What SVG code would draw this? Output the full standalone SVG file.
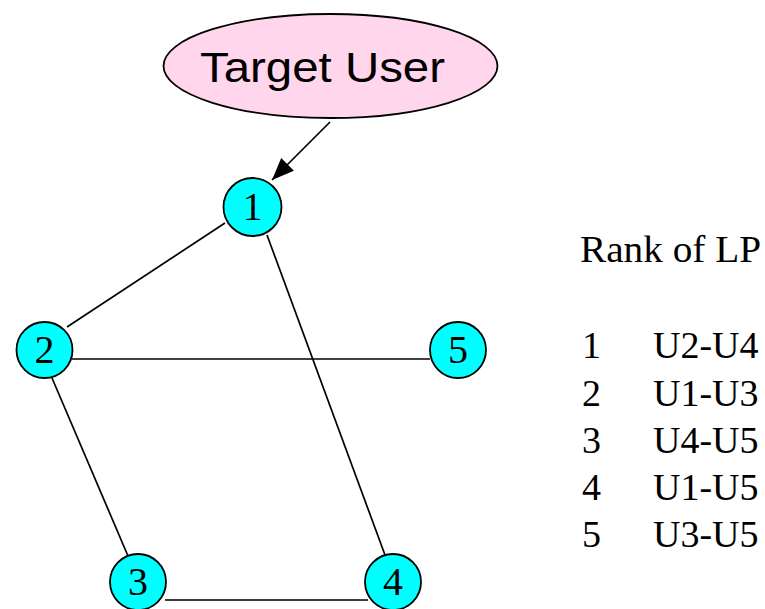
<svg xmlns="http://www.w3.org/2000/svg" width="765" height="609" viewBox="0 0 765 609">
<style>
.node circle{fill:#00FFFF;stroke:#000;stroke-width:1.8}
.node text{font-family:"Liberation Serif","Times New Roman",serif;font-size:40px;text-anchor:middle;fill:#000}
.edge{stroke:#000;stroke-width:1.7;fill:none}
.tbl{font-family:"Liberation Serif","Times New Roman",serif;font-size:38px;fill:#000}
</style>
<defs>
<marker id="arr" viewBox="0 0 22 18" refX="22" refY="9" markerWidth="22" markerHeight="18" markerUnits="userSpaceOnUse" orient="auto">
<path d="M0,0 L22,9 L0,18 z" fill="#000"/>
</marker>
</defs>
<rect width="765" height="609" fill="#fff"/>
<g id="connectors">
<line class="edge" x1="330" y1="122" x2="272" y2="180" stroke-width="2" marker-end="url(#arr)"/>
<line class="edge" x1="225" y1="223" x2="67" y2="327"/>
<line class="edge" x1="267" y1="235" x2="385" y2="555"/>
<line class="edge" x1="72" y1="359" x2="430" y2="359"/>
<line class="edge" x1="52" y1="378" x2="128" y2="556"/>
<line class="edge" x1="165" y1="600" x2="368" y2="600"/>
</g>
<g id="target-user">
<ellipse cx="330.5" cy="66" rx="167" ry="52" fill="#FFD6EB" stroke="#000" stroke-width="1.8"/>
<text x="322.5" y="82" font-family="'Liberation Sans',Arial,sans-serif" font-size="42" text-anchor="middle" textLength="245" lengthAdjust="spacingAndGlyphs">Target User</text>
</g>
<g id="node1" class="node"><circle cx="252.5" cy="207" r="29"/><text x="252.5" y="220">1</text></g>
<g id="node2" class="node"><circle cx="44.5" cy="350" r="28"/><text x="44.5" y="363">2</text></g>
<g id="node5" class="node"><circle cx="458" cy="350" r="28"/><text x="458" y="363">5</text></g>
<g id="node3" class="node"><circle cx="138" cy="582" r="28"/><text x="138" y="595">3</text></g>
<g id="node4" class="node"><circle cx="393" cy="582" r="28"/><text x="393" y="595">4</text></g>
<g id="rank-table" class="tbl">
<text x="580" y="262" textLength="181" lengthAdjust="spacingAndGlyphs">Rank of LP</text>
<text x="582" y="358">1</text><text x="653" y="358">U2-U4</text>
<text x="582" y="405.5">2</text><text x="653" y="405.5">U1-U3</text>
<text x="582" y="453">3</text><text x="653" y="453">U4-U5</text>
<text x="582" y="500">4</text><text x="653" y="500">U1-U5</text>
<text x="582" y="547">5</text><text x="653" y="547">U3-U5</text>
</g>
</svg>
